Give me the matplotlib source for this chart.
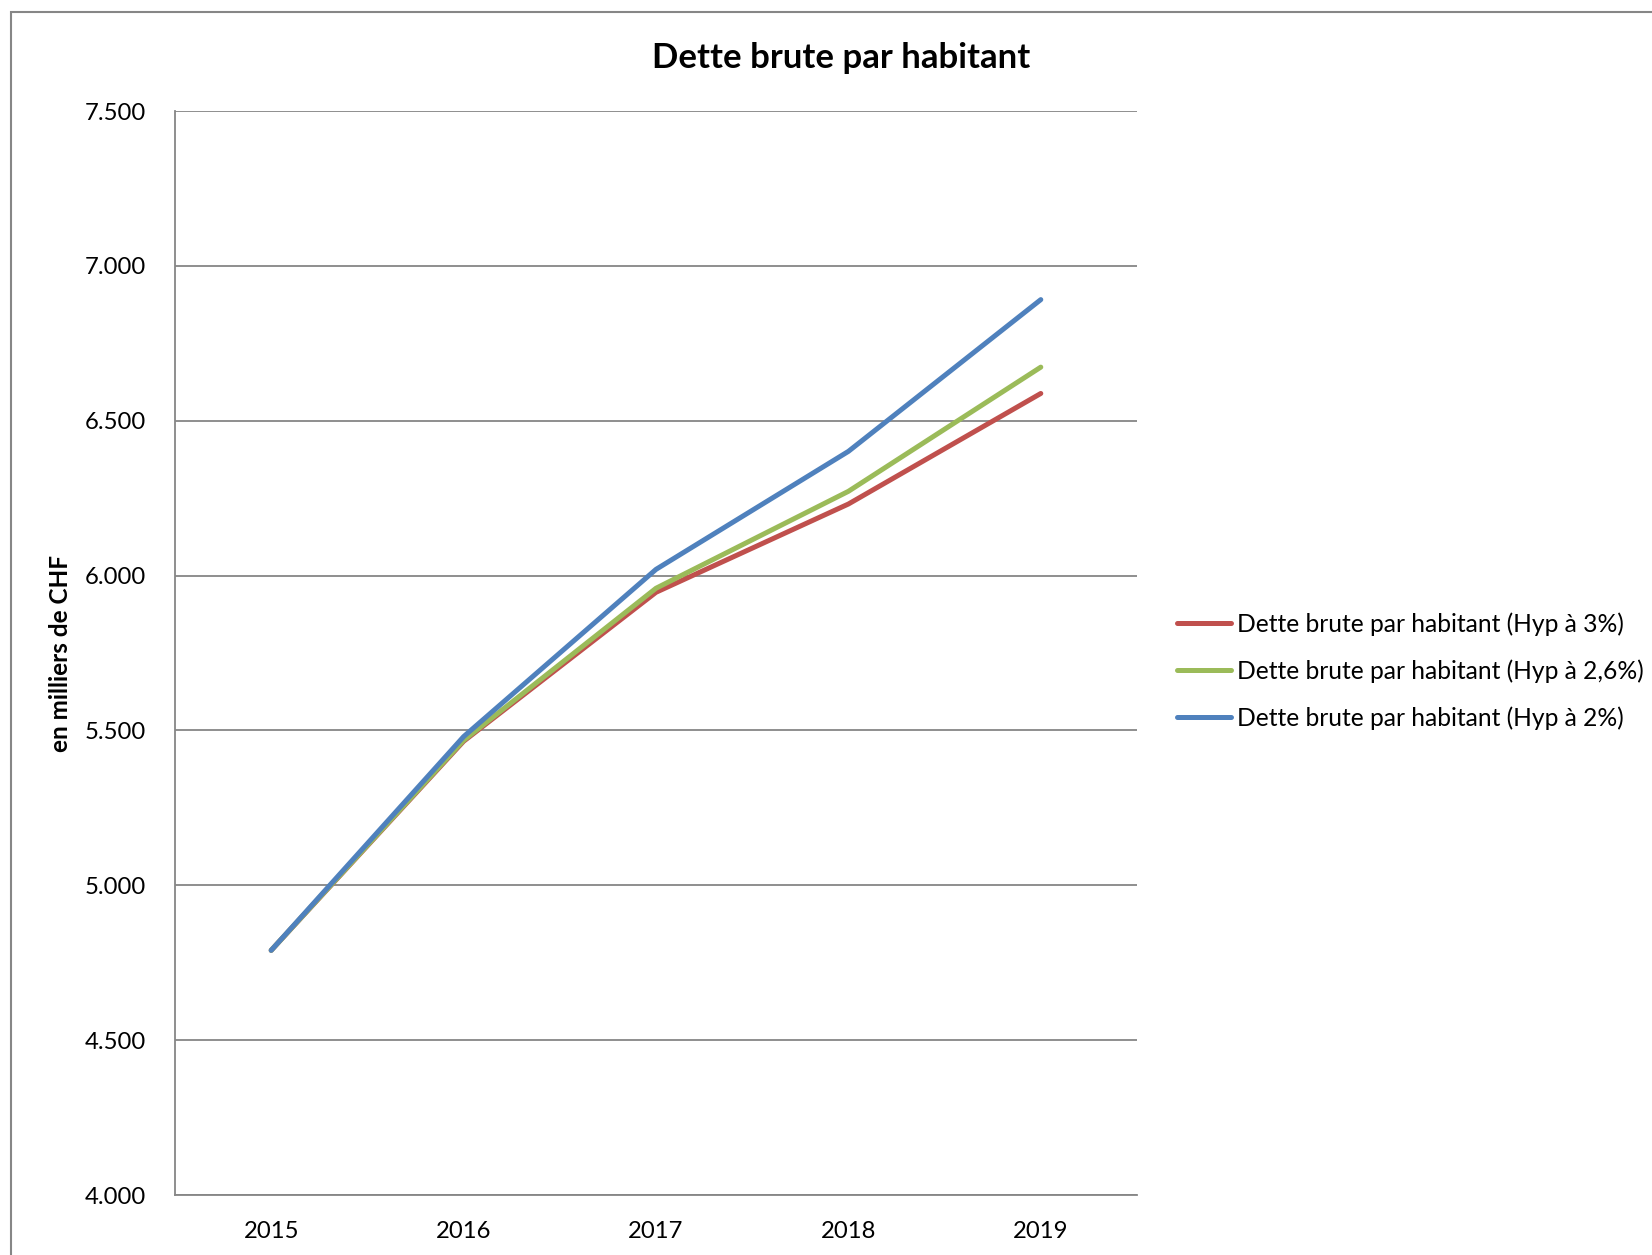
import matplotlib.pyplot as plt
from matplotlib.patches import Rectangle

plt.rcParams['font.family'] = ['Lato', 'DejaVu Sans']

# Data: gross debt per inhabitant under three growth hypotheses
years = ['2015', '2016', '2017', '2018', '2019']
hyp_3 = [4790, 5465, 5946, 6231, 6588]
hyp_26 = [4790, 5468, 5959, 6272, 6673]
hyp_2 = [4790, 5480, 6020, 6401, 6891]
labels = ['Dette brute par habitant (Hyp à 3%)',
          'Dette brute par habitant (Hyp à 2,6%)',
          'Dette brute par habitant (Hyp à 2%)']
colors = ['#C0504D', '#9BBB59', '#4F81BD']
yticks = [4000, 4500, 5000, 5500, 6000, 6500, 7000, 7500]

fig = plt.figure(figsize=(16.52, 12.55), dpi=100)
W, H = 1652, 1255
ax = fig.add_axes([175 / W, 1 - 1195 / H, (1137 - 175) / W, (1195 - 111) / H])

# chart border (runs off the right and bottom edges)
fig.patches.append(Rectangle((10.5 / W, -0.1), 1.2, 1 - 12 / H + 0.1,
                             transform=fig.transFigure, fill=False,
                             edgecolor='#868686', linewidth=1.5))

x = range(len(years))
for vals, lab, c in zip([hyp_3, hyp_26, hyp_2], labels, colors):
    ax.plot(x, vals, color=c, linewidth=3.6, label=lab, solid_capstyle='round')

ax.set_xlim(-0.5, 4.5)
ax.set_ylim(4000, 7500)
ax.set_yticks(yticks)
ax.set_yticklabels([f'{v // 1000}.{v % 1000:03d}' for v in yticks])
ax.set_xticks(list(x))
ax.set_xticklabels(years)
ax.yaxis.grid(True, color='#868686', linewidth=1.3)
ax.set_axisbelow(True)
for s in ['top', 'right']:
    ax.spines[s].set_visible(False)
for s in ['left', 'bottom']:
    ax.spines[s].set_color('#868686')
    ax.spines[s].set_linewidth(1.3)
ax.tick_params(axis='both', length=0, labelsize=17.2)
ax.tick_params(axis='y', pad=21)
ax.tick_params(axis='x', pad=19)

fig.text(61 / W, 1 - 653 / H, 'en milliers de CHF', rotation=90, ha='center',
         va='center', fontsize=17.5, fontweight='bold')
fig.text(841 / W, 1 - 58 / H, 'Dette brute par habitant', ha='center', va='center',
         fontsize=25, fontweight='bold')

fig.legend(loc='center left', bbox_to_anchor=(1177 / W, 1 - 671 / H),
           frameon=False, fontsize=17.7, handlelength=2.2, handletextpad=0.25,
           labelspacing=0.95, borderpad=0, borderaxespad=0)

fig.savefig('out.png', dpi=100)
